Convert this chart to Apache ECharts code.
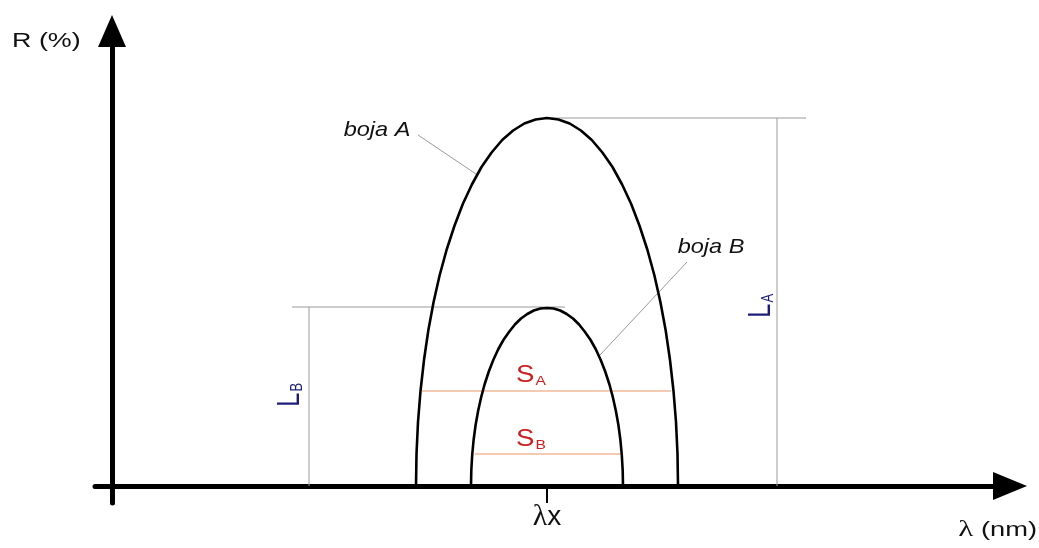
<!DOCTYPE html>
<html>
<head>
<meta charset="utf-8">
<title>boja A / boja B</title>
<script src="https://cdn.jsdelivr.net/npm/echarts@6/dist/echarts.min.js"></script>
<style>
html,body{margin:0;padding:0;background:#fff;}
#main{width:1039px;height:548px;}
</style>
</head>
<body>
<div id="main"></div>
<script>
// krivulje refleksije [lambda, R], procitano sa slike
var bojaA=[[304,0],[304.5,32],[306,64],[308.5,95],[312,126],[316.3,155.5],[321.6,184],[327.7,211],[334.7,236.5],[342.4,260],[350.8,282],[359.9,301.5],[369.5,319],[379.6,333.5],[390.2,346],[401.1,355.5],[412.3,362.5],[423.6,366.5],[435,368],
    [446.4,366.5],[457.7,362.5],[468.9,355.5],[479.8,346],[490.4,333.5],[500.5,319],[510.1,301.5],[519.2,282],[527.6,260],[535.3,236.5],[542.3,211],[548.4,184],[553.7,155.5],[558,126],[561.5,95],[564,64],[565.5,32],[566,0]];
var bojaB=[[359,0],[359.3,15.5],[360.2,31],[361.6,46],[363.6,61],[366.1,75],[369.2,89],[372.7,102],[376.8,114.5],[381.3,126],[386.1,136.5],[391.4,146],[397,154],[402.9,161.5],[409,167.5],[415.3,172],[421.8,175.5],[428.4,177.5],[435,178],
    [441.6,177.5],[448.2,175.5],[454.7,172],[461,167.5],[467.1,161.5],[473,154],[478.6,146],[483.9,136.5],[488.7,126],[493.2,114.5],[497.3,102],[500.8,89],[503.9,75],[506.4,61],[508.4,46],[509.8,31],[510.7,15.5],[511,0]];
// lambda x (vrh obje krivulje)
var lambdaX=[435];
// sirine S_A i S_B
var sA=[[310,95],[559,95]];
var sB=[[363,32],[510,32]];
// visine L_A i L_B
var levelA=[[435,368],[694,368]];
var heightA=[[665,368],[665,0]];
var levelB=[[180,179],[453,179]];
var heightB=[[197,179],[197,0]];
// pokazne linije za nazive
var leaderA=[[306,351],[364,312]];
var leaderB=[[575,224],[488,131]];

var FONT='"Liberation Sans", Arial, sans-serif';
var chart=echarts.init(document.getElementById('main'));

function seg(data,color,width){
    return {type:'line',data:data,symbol:'none',silent:true,animation:false,
        lineStyle:{color:color,width:width},z:2};
}
function curve(name,data){
    return {name:name,type:'line',data:data,symbol:'none',smooth:false,
        silent:true,animation:false,lineStyle:{color:'#000',width:2.6,join:'round'},z:3};
}

var option={
    animation:false,
    backgroundColor:'#fff',
    grid:{left:95,right:29,top:31,bottom:45,containLabel:false,outerBoundsMode:'none'},
    xAxis:{
        type:'value',min:-17,max:898,
        splitLine:{show:false},
        axisLine:{onZero:true,symbol:['none','triangle'],symbolSize:[28,34],lineStyle:{color:'#000',width:5}},
        axisTick:{show:true,customValues:lambdaX,length:17,lineStyle:{color:'#000',width:2}},
        axisLabel:{show:true,customValues:lambdaX,margin:-1,
            formatter:function(){return '{l|λ}{x|x}';},
            rich:{
                l:{fontFamily:'"Liberation Serif", serif',fontSize:30,color:'#111'},
                x:{fontFamily:FONT,fontSize:28,color:'#111'}
            }
        }
    },
    yAxis:{
        type:'value',min:-17,max:455,
        splitLine:{show:false},
        axisLine:{onZero:true,symbol:['none','triangle'],symbolSize:[28,32],lineStyle:{color:'#000',width:5}},
        axisTick:{show:false},
        axisLabel:{show:false}
    },
    series:[
        seg(levelA,'#9a9a9a',1),
        seg(heightA,'#9a9a9a',1),
        seg(levelB,'#9a9a9a',1),
        seg(heightB,'#9a9a9a',1),
        seg(leaderA,'#9a9a9a',1),
        seg(leaderB,'#9a9a9a',1),
        seg(sA,'#f2b899',1.5),
        seg(sB,'#f2b899',1.5),
        curve('boja A',bojaA),
        curve('boja B',bojaB)
    ]
};
chart.setOption(option);

// natpisi: sidro u koordinatama grafa
function textAt(at,style,sx,sy,rot){
    var p=chart.convertToPixel({gridIndex:0},at);
    return {type:'text',x:p[0],y:p[1],scaleX:sx||1,scaleY:sy||1,rotation:rot||0,
        silent:true,z:10,style:style};
}
var red='#cc2020',navy='#1c1c78';
var subRich=function(color,big,small){
    return {
        m:{font:big+'px '+FONT,fill:color,lineHeight:big+2},
        sub:{font:small+'px '+FONT,fill:color,verticalAlign:'bottom',lineHeight:small,padding:[0,0,1,1]}
    };
};

chart.setOption({
    graphic:[
        {type:'text',x:12,y:41,scaleX:1.28,silent:true,
            style:{text:'R (%)',font:'21px '+FONT,fill:'#111',align:'left',verticalAlign:'middle'}},
        {type:'text',x:1037,y:530,scaleX:1.3,silent:true,
            style:{text:'{l|λ}{t| (nm)}',align:'right',verticalAlign:'middle',
                rich:{l:{font:'24px "Liberation Serif", serif',fill:'#111'},t:{font:'21px '+FONT,fill:'#111'}}}},
        textAt([265,356],{text:'boja A',font:'italic 21px '+FONT,fill:'#111',align:'center',verticalAlign:'middle'},1.12),
        textAt([599,239],{text:'boja B',font:'italic 21px '+FONT,fill:'#111',align:'center',verticalAlign:'middle'},1.12),
        textAt([419,110],{text:'{m|S}{sub|A}',align:'center',verticalAlign:'middle',rich:subRich(red,23,13)},1.2),
        textAt([419,46],{text:'{m|S}{sub|B}',align:'center',verticalAlign:'middle',rich:subRich(red,23,13)},1.2),
        textAt([649,180],{text:'{m|L}{sub|A}',align:'center',verticalAlign:'middle',rich:subRich(navy,26,13)},1,1.2,Math.PI/2),
        textAt([178,91],{text:'{m|L}{sub|B}',align:'center',verticalAlign:'middle',rich:subRich(navy,26,13)},1,1.2,Math.PI/2)
    ]
});
</script>
</body>
</html>
